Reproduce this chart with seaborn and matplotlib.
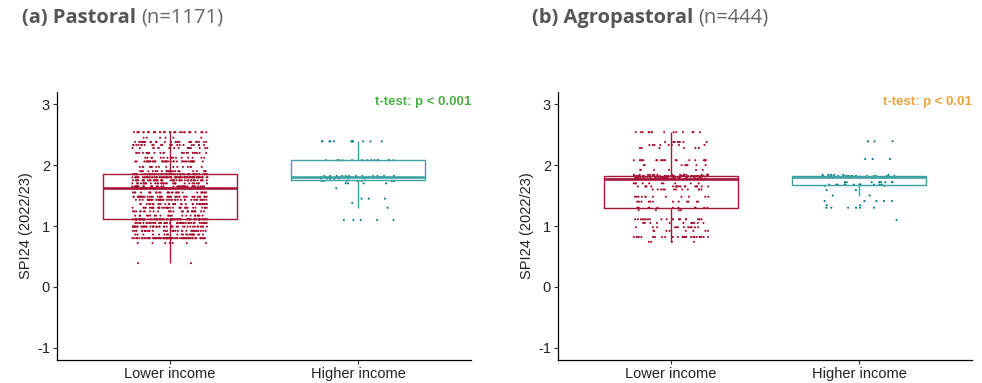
import numpy as np
import pandas as pd
import matplotlib
matplotlib.use("Agg")
import matplotlib.pyplot as plt
import seaborn as sns

# SPI24 (2022/23) values by income group: (value, number of households)
pastoral_lower_levels = [0.39, 0.72, 0.80, 0.86, 0.92, 0.99, 1.05, 1.11, 1.17, 1.24,
                         1.30, 1.36, 1.43, 1.48, 1.55, 1.62, 1.65, 1.70, 1.75, 1.80,
                         1.85, 1.90, 1.97, 2.06, 2.12, 2.20, 2.28, 2.33, 2.38, 2.45, 2.54]
pastoral_lower_counts = [2, 8, 76, 22, 33, 44, 48, 78, 22, 27,
                         33, 33, 38, 44, 28, 76, 38, 32, 48, 78,
                         55, 22, 16, 38, 16, 22, 16, 22, 28, 6, 32]

pastoral_higher_levels = [1.10, 1.30, 1.38, 1.45, 1.62, 1.70, 1.74, 1.78, 1.80, 1.82, 2.08, 2.39]
pastoral_higher_counts = [5, 1, 1, 3, 1, 4, 8, 10, 19, 12, 14, 12]

agro_lower_levels = [0.74, 0.82, 0.92, 0.98, 1.05, 1.11, 1.26, 1.30, 1.40, 1.48,
                     1.60, 1.65, 1.70, 1.77, 1.78, 1.80, 1.82, 1.84, 1.92, 2.00,
                     2.08, 2.28, 2.33, 2.38, 2.54]
agro_lower_counts = [4, 28, 8, 12, 12, 20, 4, 12, 12, 12,
                     12, 18, 10, 20, 25, 25, 38, 18, 6, 8,
                     20, 6, 8, 10, 14]

agro_higher_levels = [1.10, 1.30, 1.34, 1.41, 1.50, 1.59, 1.66, 1.68, 1.72, 1.80, 1.82, 1.84, 2.10, 2.39]
agro_higher_counts = [1, 6, 2, 5, 2, 2, 2, 12, 8, 14, 16, 6, 3, 3]

groups = ["Lower income", "Higher income"]
panel_titles = [("(a) Pastoral", "(n=1171)"), ("(b) Agropastoral", "(n=444)")]
test_labels = ["t-test: p < 0.001", "t-test: p < 0.01"]
test_colors = ["#4DAF4A", "#E8A33D"]
yticks = [-1, 0, 1, 2, 3]

point_colors = {"Lower income": "#A50F2D", "Higher income": "#007B7F"}
box_colors = {"Lower income": "#A8163A", "Higher income": "#3FA3A5"}


def build_frame(lower_levels, lower_counts, higher_levels, higher_counts):
    lower = np.repeat(lower_levels, lower_counts)
    higher = np.repeat(higher_levels, higher_counts)
    return pd.DataFrame({
        "group": ["Lower income"] * len(lower) + ["Higher income"] * len(higher),
        "spi": np.concatenate([lower, higher]),
    })


frames = [
    build_frame(pastoral_lower_levels, pastoral_lower_counts,
                pastoral_higher_levels, pastoral_higher_counts),
    build_frame(agro_lower_levels, agro_lower_counts,
                agro_higher_levels, agro_higher_counts),
]

sns.set_style("white")
plt.rcParams["font.family"] = ["Liberation Sans", "DejaVu Sans"]

np.random.seed(7)
fig = plt.figure(figsize=(9.82, 3.83), dpi=100)
W, H = 982, 383
axes_px = [(57, 92, 471, 360), (558, 92, 972, 360)]
title_x = [22, 532]

for i, df in enumerate(frames):
    x0, y0, x1, y1 = axes_px[i]
    ax = fig.add_axes([x0 / W, 1 - y1 / H, (x1 - x0) / W, (y1 - y0) / H])

    sns.stripplot(data=df, x="group", y="spi", hue="group", order=groups,
                  hue_order=groups, palette=point_colors, jitter=0.2, size=1.5,
                  linewidth=0, legend=False, ax=ax, zorder=2)
    sns.boxplot(data=df, x="group", y="spi", hue="group", order=groups,
                hue_order=groups, palette=box_colors, fill=False, width=0.71,
                showfliers=False, whis=1.5, linewidth=1.0, legend=False, ax=ax,
                medianprops={"linewidth": 1.9}, showcaps=False, zorder=3)

    ax.set_xlim(-0.6, 1.6)
    ax.set_ylim(-1.2, 3.2)
    ax.set_yticks(yticks)
    ax.set_yticklabels([str(t) for t in yticks])
    ax.set_xlabel("")
    ax.set_ylabel("SPI24 (2022/23)", fontsize=10.5, color="#222222", labelpad=3)
    for side in ["top", "right"]:
        ax.spines[side].set_visible(False)
    for side in ["left", "bottom"]:
        ax.spines[side].set_color("black")
        ax.spines[side].set_linewidth(0.9)
    ax.tick_params(axis="both", which="major", direction="out", length=3,
                   width=0.8, color="#333333", labelsize=10.5, labelcolor="#222222",
                   left=True, bottom=True, pad=2)

    ax.text(1.0, 0.985, test_labels[i], transform=ax.transAxes, ha="right",
            va="top", fontsize=9.5, fontweight="bold", color=test_colors[i],
            family=["Liberation Sans Narrow", "Liberation Sans", "DejaVu Sans"])

    bold, rest = panel_titles[i]
    t = fig.text(title_x[i] / W, 1 - 18 / H, bold, ha="left", va="center",
                 fontsize=14.5, fontweight="bold", color="#555555",
                 family=["Open Sans", "DejaVu Sans"])
    fig.canvas.draw()
    bb = t.get_window_extent()
    fig.text((bb.x1 + 5) / W, 1 - 18 / H, rest, ha="left", va="center",
             fontsize=14.5, color="#666666", family=["Open Sans", "DejaVu Sans"])

fig.savefig("out.png", dpi=100)
